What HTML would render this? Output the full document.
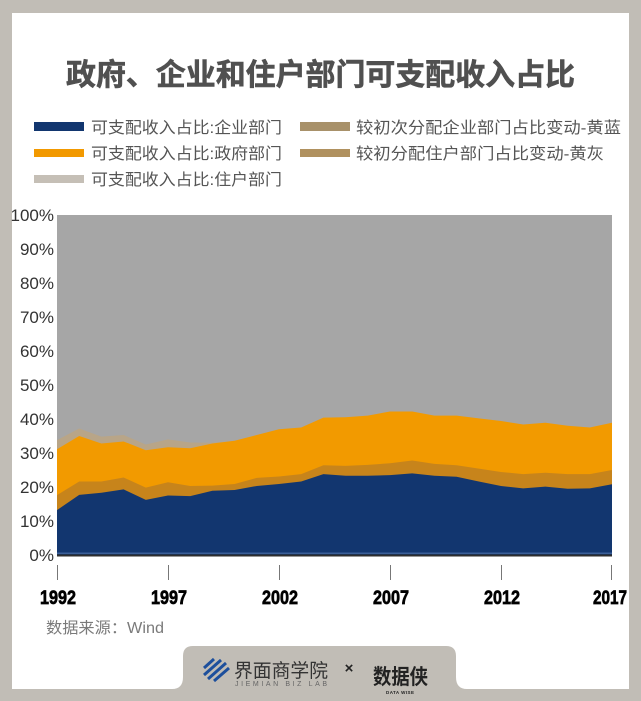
<!DOCTYPE html>
<html><head><meta charset="utf-8">
<style>
html,body{margin:0;padding:0;background:#c1bdb6;}
svg{display:block;}
</style></head>
<body>
<svg width="641" height="701" viewBox="0 0 641 701" xmlns="http://www.w3.org/2000/svg">
  <rect x="0" y="0" width="641" height="701" fill="#c1bdb6"/>
  <rect x="12" y="13" width="617" height="676" fill="#ffffff"/>

  <!-- Title -->
  <text x="320.5" y="85" text-anchor="middle" font-family="'Liberation Sans','Noto Sans CJK SC',sans-serif" font-size="30" font-weight="bold" fill="#505050" stroke="#505050" stroke-width="0.6" textLength="509" lengthAdjust="spacingAndGlyphs">政府、企业和住户部门可支配收入占比</text>

  <!-- Legend -->
  <g font-family="'Liberation Sans','Noto Sans CJK SC',sans-serif" font-size="16" fill="#555">
    <rect x="34" y="122" width="50" height="9" fill="#12366f"/>
    <text x="91" y="133" textLength="191" lengthAdjust="spacingAndGlyphs">可支配收入占比:企业部门</text>
    <rect x="34" y="149" width="50" height="8" fill="#f29900"/>
    <text x="91" y="159" textLength="191" lengthAdjust="spacingAndGlyphs">可支配收入占比:政府部门</text>
    <rect x="34" y="175" width="50" height="8" fill="#c5bfb6"/>
    <text x="91" y="185" textLength="191" lengthAdjust="spacingAndGlyphs">可支配收入占比:住户部门</text>

    <rect x="300" y="122" width="50" height="9" fill="#a8916a"/>
    <text x="356" y="133" textLength="265" lengthAdjust="spacingAndGlyphs">较初次分配企业部门占比变动-黄蓝</text>
    <rect x="300" y="149" width="50" height="8" fill="#b0915f"/>
    <text x="356" y="159" textLength="248" lengthAdjust="spacingAndGlyphs">较初分配住户部门占比变动-黄灰</text>
  </g>

  <!-- Plot background (household) -->
  <rect x="57" y="215" width="555" height="340" fill="#a6a6a6"/>

  <!-- light tan band top -->
  <polygon fill="#b8a588" points="57,440.08 79.2,428.52 101.4,436.68 123.6,434.98 145.8,444.5 168,439.4 190.2,442.46 212.4,442.8 234.6,440.76 256.8,434.98 279,429.2 301.2,427.5 323.4,417.64 345.6,417.3 367.8,415.6 390,411.52 412.2,411.52 434.4,415.6 456.6,415.6 478.8,418.32 501,421.04 523.2,424.44 545.4,422.74 567.6,425.8 589.8,427.5 612,422.74 612,555 57,555"/>

  <!-- orange -->
  <polygon fill="#f29a00" points="57,449.26 79.2,436 101.4,443.48 123.6,441.44 145.8,450.28 168,447.22 190.2,448.24 212.4,443.48 234.6,440.76 256.8,434.98 279,429.2 301.2,427.5 323.4,417.64 345.6,417.3 367.8,415.6 390,411.52 412.2,411.52 434.4,415.6 456.6,415.6 478.8,418.32 501,421.04 523.2,424.44 545.4,422.74 567.6,425.8 589.8,427.5 612,422.74 612,555 57,555"/>

  <!-- dark tan -->
  <polygon fill="#c7841b" points="57,495.16 79.2,481.56 101.4,481.56 123.6,477.48 145.8,487.68 168,482.24 190.2,485.98 212.4,485.64 234.6,483.94 256.8,477.82 279,476.46 301.2,474.08 323.4,465.24 345.6,465.92 367.8,464.9 390,463.2 412.2,460.48 434.4,463.88 456.6,465.24 478.8,468.64 501,472.04 523.2,474.08 545.4,472.72 567.6,474.08 589.8,474.08 612,470 612,555 57,555"/>

  <!-- blue -->
  <polygon fill="#12366f" points="57,510.12 79.2,494.82 101.4,492.78 123.6,489.38 145.8,499.92 168,495.5 190.2,496.18 212.4,490.74 234.6,490.06 256.8,485.98 279,483.94 301.2,481.56 323.4,474.08 345.6,475.78 367.8,475.78 390,475.1 412.2,473.4 434.4,475.78 456.6,476.8 478.8,481.56 501,485.98 523.2,488.36 545.4,486.66 567.6,488.7 589.8,488.36 612,484.28 612,555 57,555"/>

  <!-- bottom axis lines -->
  <rect x="57" y="552.5" width="555" height="1.5" fill="#3b5f98"/>
  <rect x="57" y="554.5" width="555" height="2" fill="#2e2e2e"/>

  <!-- Y labels -->
  <g font-family="'Liberation Sans',sans-serif" font-size="17" fill="#333" text-anchor="end">
    <text x="54" y="221">100%</text>
    <text x="54" y="255">90%</text>
    <text x="54" y="289">80%</text>
    <text x="54" y="323">70%</text>
    <text x="54" y="357">60%</text>
    <text x="54" y="391">50%</text>
    <text x="54" y="425">40%</text>
    <text x="54" y="459">30%</text>
    <text x="54" y="493">20%</text>
    <text x="54" y="527">10%</text>
    <text x="54" y="561">0%</text>
  </g>

  <!-- X ticks -->
  <g stroke="#777" stroke-width="1">
    <line x1="57.5" y1="565" x2="57.5" y2="580"/>
    <line x1="168.5" y1="565" x2="168.5" y2="580"/>
    <line x1="279.5" y1="565" x2="279.5" y2="580"/>
    <line x1="390.5" y1="565" x2="390.5" y2="580"/>
    <line x1="501.5" y1="565" x2="501.5" y2="580"/>
    <line x1="611.5" y1="565" x2="611.5" y2="580"/>
  </g>

  <!-- X labels -->
  <g font-family="'Liberation Sans',sans-serif" font-size="19.5" font-weight="bold" fill="#000" stroke="#000" stroke-width="0.7">
    <text x="40" y="604" textLength="36" lengthAdjust="spacingAndGlyphs">1992</text>
    <text x="151" y="604" textLength="36" lengthAdjust="spacingAndGlyphs">1997</text>
    <text x="262" y="604" textLength="36" lengthAdjust="spacingAndGlyphs">2002</text>
    <text x="373" y="604" textLength="36" lengthAdjust="spacingAndGlyphs">2007</text>
    <text x="484" y="604" textLength="36" lengthAdjust="spacingAndGlyphs">2012</text>
    <text x="593" y="604" textLength="34" lengthAdjust="spacingAndGlyphs">2017</text>
  </g>

  <!-- Source -->
  <text x="46" y="633" font-family="'Liberation Sans','Noto Sans CJK SC',sans-serif" font-size="15.5" fill="#7a7a7a" textLength="118" lengthAdjust="spacingAndGlyphs">数据来源：Wind</text>

  <!-- Footer tab -->
  <rect x="0" y="689" width="641" height="12" fill="#c1bdb6"/>
  <path d="M172 689 Q183 689 183 677 L183 656 Q183 646 193 646 L446 646 Q456 646 456 656 L456 677 Q456 689 467 689 Z" fill="#c1bdb6"/>

  <!-- Jiemian logo stripes -->
  <g stroke="#1d4f9c" stroke-width="3" stroke-linecap="butt">
    <line x1="204" y1="668" x2="214" y2="659"/>
    <line x1="204" y1="675" x2="221" y2="660"/>
    <line x1="208" y1="679" x2="226" y2="663"/>
    <line x1="214" y1="681" x2="229" y2="668"/>
  </g>
  <text x="234" y="677" font-family="'Liberation Sans','Noto Sans CJK SC',sans-serif" font-size="19" fill="#333" textLength="94" lengthAdjust="spacingAndGlyphs">界面商学院</text>
  <text x="235" y="686" font-family="'Liberation Sans',sans-serif" font-size="7" fill="#666" textLength="92" lengthAdjust="spacing">JIEMIAN BIZ LAB</text>
  <text x="349" y="673" text-anchor="middle" font-family="'Liberation Sans',sans-serif" font-size="15" font-weight="bold" fill="#222">×</text>
  <text x="373" y="684" font-family="'Liberation Sans','Noto Sans CJK SC',sans-serif" font-size="21" font-weight="bold" fill="#222" textLength="55" lengthAdjust="spacingAndGlyphs">数据侠</text>
  <text x="386" y="694" font-family="'Liberation Sans',sans-serif" font-size="4.5" font-weight="bold" fill="#222" textLength="28" lengthAdjust="spacing">DATA WISE</text>
</svg>
</body></html>
